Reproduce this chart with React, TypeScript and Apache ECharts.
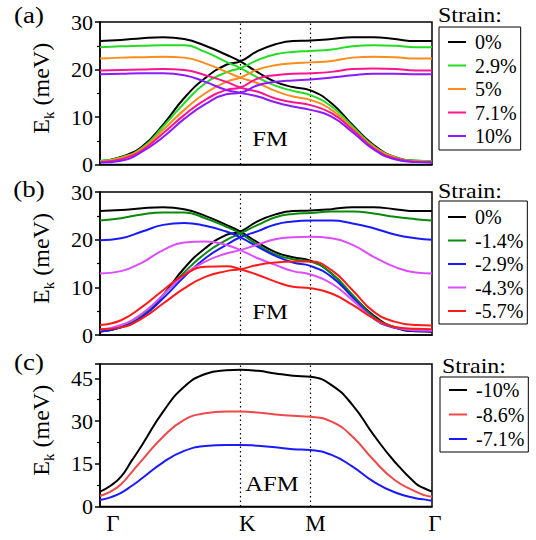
import React, { useEffect, useRef } from "react";
import * as echarts from "echarts";

// Path coordinate along Γ–K–M–Γ (K = 1.3333, M = 2, Γ = 3.1547)
const kPath = [0, 0.2, 0.4, 0.6, 0.8, 1.0, 1.2, 1.3333, 1.5, 1.6667, 1.8333, 2.0, 2.2, 2.4, 2.6, 2.8, 3.0, 3.1547];
const kPathC = [0, 0.1, 0.2, 0.3, 0.4, 0.6, 0.8, 1.0, 1.2, 1.3333, 1.5, 1.6667, 1.8333, 2.0, 2.2, 2.4, 2.6, 2.8, 3.0, 3.08, 3.1547];
const kTicks = [0, 1.3333, 2.0, 3.1547];
const kTickLabels = ["Γ", "K", "M", "Γ"];

// Panel (a): tensile strain, FM
const strainA = ["0%", "2.9%", "5%", "7.1%", "10%"];
const colorsA = ["#000000", "#22dd22", "#ff8c1a", "#ff1490", "#8c1aff"];
const a0_hi = [26.0, 26.2, 26.6, 26.8, 26.4, 25.0, 23.1, 21.7, 19.4, 17.4, 16.3, 15.6, 12.9, 8.3, 4.1, 1.6, 0.8, 0.7];
const a0_lo = [0.7, 1.6, 3.8, 8.4, 14.0, 18.2, 21.0, 21.7, 23.9, 25.3, 26.0, 26.1, 26.4, 26.8, 26.8, 26.4, 26.0, 26.0];
const a1_hi = [24.7, 24.9, 25.0, 25.1, 25.1, 23.7, 21.6, 20.3, 18.3, 16.6, 15.5, 14.6, 12.2, 8.0, 3.9, 1.6, 0.8, 0.7];
const a1_lo = [0.8, 1.5, 3.5, 8.0, 12.9, 17.1, 19.4, 20.3, 22.0, 23.2, 23.7, 23.9, 24.2, 24.9, 25.1, 25.0, 24.7, 24.7];
const a2_hi = [22.3, 22.5, 22.6, 22.7, 22.5, 21.3, 19.5, 18.3, 17.1, 15.5, 14.3, 13.6, 11.5, 7.6, 3.7, 1.5, 0.7, 0.6];
const a2_lo = [0.6, 1.4, 3.3, 7.3, 11.5, 15.0, 17.4, 18.3, 20.0, 20.9, 21.3, 21.5, 21.8, 22.5, 22.7, 22.6, 22.3, 22.3];
const a3_hi = [19.8, 19.9, 20.0, 20.1, 19.9, 18.8, 17.4, 16.2, 15.3, 13.9, 13.1, 12.5, 10.8, 7.3, 3.4, 1.3, 0.6, 0.5];
const a3_lo = [0.5, 1.1, 3.0, 6.6, 10.4, 13.6, 15.7, 16.2, 18.1, 18.8, 19.1, 19.2, 19.5, 20.1, 20.2, 20.1, 19.8, 19.8];
const a4_hi = [19.0, 19.1, 19.2, 19.2, 18.8, 17.4, 15.7, 15.1, 14.3, 13.1, 12.2, 11.5, 10.1, 6.8, 3.2, 1.1, 0.5, 0.4];
const a4_lo = [0.4, 0.8, 2.7, 5.8, 9.6, 12.7, 14.8, 15.1, 16.7, 17.4, 17.7, 17.9, 18.3, 18.8, 19.1, 19.1, 19.0, 19.0];

// Panel (b): compressive strain, FM
const strainB = ["0%", "-1.4%", "-2.9%", "-4.3%", "-5.7%"];
const colorsB = ["#000000", "#0a8a0a", "#1a1aff", "#dd4dff", "#ff1a1a"];
const b0_hi = a0_hi;
const b0_lo = a0_lo;
const b1_hi = [24.0, 24.5, 25.3, 25.7, 25.7, 24.5, 22.7, 21.3, 18.9, 16.9, 15.9, 15.4, 12.9, 8.4, 3.8, 1.7, 1.0, 0.9];
const b1_lo = [0.8, 1.7, 4.2, 8.4, 13.1, 17.1, 19.9, 21.3, 23.1, 24.7, 25.4, 25.6, 25.9, 25.9, 25.5, 24.8, 24.3, 24.0];
const b2_hi = [19.9, 20.3, 21.7, 23.1, 23.5, 22.9, 21.7, 20.5, 18.5, 16.6, 15.2, 14.5, 12.2, 7.9, 3.5, 1.5, 0.9, 0.8];
const b2_lo = [0.8, 1.6, 3.8, 7.7, 12.2, 16.1, 18.9, 20.5, 21.8, 23.2, 23.8, 24.0, 24.0, 23.4, 22.4, 21.1, 20.3, 20.0];
const b3_hi = [12.9, 13.4, 15.2, 17.8, 19.4, 19.6, 18.9, 17.8, 16.1, 14.7, 13.4, 12.7, 10.8, 7.3, 3.5, 1.6, 1.0, 0.9];
const b3_lo = [1.1, 2.1, 4.5, 8.4, 12.6, 15.4, 17.1, 17.8, 19.0, 20.1, 20.5, 20.6, 20.3, 18.9, 16.4, 14.3, 13.1, 12.9];
const b4_hi = [2.1, 3.1, 5.9, 9.4, 12.6, 14.3, 14.4, 13.8, 12.6, 11.2, 10.1, 9.8, 8.7, 6.3, 3.5, 1.7, 1.3, 1.2];
const b4_lo = [1.2, 1.6, 3.5, 6.6, 9.8, 12.2, 13.4, 13.8, 14.7, 15.2, 15.4, 15.4, 13.6, 9.4, 4.9, 2.8, 2.1, 2.0];

// Panel (c): AFM (sampled on kPathC)
const strainC = ["-10%", "-8.6%", "-7.1%"];
const colorsC = ["#000000", "#f04848", "#1a1aff"];
const c0 = [5.2, 7.3, 10.5, 16.0, 21.6, 33.3, 42.0, 46.5, 47.8, 48.0, 47.6, 46.7, 45.9, 45.5, 42.6, 35.6, 25.1, 15.7, 8.1, 6.4, 5.2];
const c1 = [3.7, 5.2, 7.8, 12.0, 16.3, 24.5, 30.4, 32.7, 33.3, 33.3, 33.0, 32.3, 31.8, 31.5, 29.8, 24.5, 16.3, 9.3, 5.2, 4.0, 3.4];
const c2 = [2.3, 3.2, 4.8, 7.2, 9.9, 15.5, 19.5, 21.2, 21.6, 21.6, 21.3, 20.8, 20.1, 19.8, 18.1, 14.0, 8.7, 5.0, 2.9, 2.5, 2.0];

const FONT = "'Liberation Serif', 'Times New Roman', serif";

export default function App() {
  const ref = useRef<HTMLDivElement>(null);

  useEffect(() => {
    document.body.style.margin = "0";
    if (!ref.current) return;
    const chart = echarts.init(ref.current, undefined, { renderer: "svg" });

    const pair = (xs: number[], ys: number[]) => ys.map((y, i) => [xs[i], y]);

    const mkLine = (name: string, color: string, xs: number[], ys: number[], idx: number, withMark = false) => {
      const s: any = {
        type: "line",
        name,
        xAxisIndex: idx,
        yAxisIndex: idx,
        data: pair(xs, ys),
        smooth: 0.5,
        showSymbol: false,
        symbol: "none",
        color,
        itemStyle: { color },
        lineStyle: { color, width: 2 },
        silent: true,
        z: 3,
      };
      if (withMark) {
        s.markLine = {
          silent: true,
          symbol: ["none", "none"],
          label: { show: false },
          lineStyle: { color: "#000", width: 1.2, type: [1.5, 3] },
          data: [{ xAxis: kTicks[1] }, { xAxis: kTicks[2] }],
          z: 1,
        };
      }
      return s;
    };

    const series: any[] = [];
    const panelA = [[a0_hi, a0_lo], [a1_hi, a1_lo], [a2_hi, a2_lo], [a3_hi, a3_lo], [a4_hi, a4_lo]];
    panelA.forEach((br, i) => {
      series.push(mkLine(strainA[i], colorsA[i], kPath, br[0], 0, i === 0));
      series.push(mkLine(strainA[i], colorsA[i], kPath, br[1], 0));
    });
    const panelB = [[b0_hi, b0_lo], [b1_hi, b1_lo], [b2_hi, b2_lo], [b3_hi, b3_lo], [b4_hi, b4_lo]];
    panelB.forEach((br, i) => {
      series.push(mkLine(strainB[i], colorsB[i], kPath, br[0], 1, i === 0));
      series.push(mkLine(strainB[i], colorsB[i], kPath, br[1], 1));
    });
    [c0, c1, c2].forEach((ys, i) => {
      series.push(mkLine(strainC[i], colorsC[i], kPathC, ys, 2, i === 0));
    });

    const grids = [
      { left: 100, top: 22, width: 332, height: 142.5 },
      { left: 100, top: 192, width: 332, height: 143 },
      { left: 100, top: 364, width: 332, height: 142.5 },
    ].map((g) => ({ ...g, show: true, borderColor: "#000", borderWidth: 1.5, backgroundColor: "transparent" }));

    const xAxes = [0, 1, 2].map((i) => ({
      type: "value",
      gridIndex: i,
      min: 0,
      max: kTicks[3],
      axisLine: { show: true, lineStyle: { color: "#000", width: 1.5 } },
      axisTick: { show: false },
      splitLine: { show: false },
      axisLabel:
        i === 2
          ? {
              show: true,
              customValues: kTicks,
              margin: 5,
              fontFamily: FONT,
              fontSize: 23,
              color: "#000",
              formatter: (v: number) => {
                const idx = kTicks.findIndex((t) => Math.abs(t - v) < 1e-3);
                const key = ["g0", "k", "m", "g1"][idx] || "k";
                return idx >= 0 ? `{${key}|${kTickLabels[idx]}}` : "";
              },
              rich: {
                g0: { fontFamily: FONT, fontSize: 23, color: "#000", padding: [0, 0, 0, 26] },
                k: { fontFamily: FONT, fontSize: 23, color: "#000", padding: [0, 0, 0, 14] },
                m: { fontFamily: FONT, fontSize: 23, color: "#000", padding: [0, 0, 0, 10] },
                g1: { fontFamily: FONT, fontSize: 23, color: "#000", padding: [0, 0, 0, 6] },
              },
            }
          : { show: false },
    }));

    const yRanges = [
      { max: 30, interval: 10 },
      { max: 30, interval: 10 },
      { max: 50, interval: 15 },
    ];
    const yAxes = yRanges.map((r, i) => ({
      type: "value",
      gridIndex: i,
      min: 0,
      max: r.max,
      interval: r.interval,
      name: "{e|E}{s|k}{e| (meV)}",
      nameLocation: "middle",
      nameGap: 44,
      nameTextStyle: {
        fontFamily: FONT,
        fontSize: 24,
        color: "#000",
        padding: [0, 0, 0, 10],
        rich: {
          e: { fontFamily: FONT, fontSize: 24, color: "#000" },
          s: { fontFamily: FONT, fontSize: 15, color: "#000", padding: [16, 0, 0, 0] },
        },
      },
      axisLine: { show: true, lineStyle: { color: "#000", width: 1.5 } },
      axisTick: { show: true, inside: false, length: 5, lineStyle: { color: "#000", width: 1.5 } },
      minorTick: { show: true, splitNumber: 2, length: 3, lineStyle: { color: "#000", width: 1.2 } },
      splitLine: { show: false },
      minorSplitLine: { show: false },
      axisLabel: {
        margin: 7,
        fontFamily: FONT,
        fontSize: 22,
        color: "#000",
        showMaxLabel: r.max % r.interval === 0,
      },
    }));

    const legendBase = {
      orient: "vertical",
      borderColor: "#000",
      borderWidth: 1,
      itemWidth: 18,
      itemHeight: 2,
      icon: "rect",
      selectedMode: false,
      textStyle: { fontFamily: FONT, fontSize: 20, color: "#000", lineHeight: 20, padding: [0, 0, 0, 4] },
    };
    const legends = [
      { ...legendBase, left: 439, top: 27, padding: [5, 4, 4, 9], itemGap: 3.5, data: strainA },
      { ...legendBase, left: 439, top: 201, padding: [6, 4, 3, 9], itemGap: 3.5, data: strainB },
      { ...legendBase, left: 440, top: 377, padding: [3, 4, 3, 9], itemGap: 4.5, data: strainC },
    ];

    const txt = (text: string, x: number, y: number, size: number, sx = 1.12, align = "center") => ({
      type: "text",
      x,
      y,
      scaleX: sx,
      silent: true,
      style: { text, fontFamily: FONT, fontSize: size, fill: "#000", align, verticalAlign: "middle" },
    });

    const graphic = [
      txt("(a)", 29, 15, 24),
      txt("(b)", 29, 189, 24),
      txt("(c)", 29, 362, 24),
      txt("FM", 270, 138, 22),
      txt("FM", 270, 311, 22),
      txt("AFM", 272, 483, 22),
      txt("Strain:", 470, 14, 22, 1.09),
      txt("Strain:", 470, 190, 22, 1.09),
      txt("Strain:", 474, 365, 22, 1.09),
    ];

    chart.setOption({
      animation: false,
      backgroundColor: "#fff",
      grid: grids,
      xAxis: xAxes,
      yAxis: yAxes,
      legend: legends,
      series,
      graphic,
    });

    return () => chart.dispose();
  }, []);

  return <div ref={ref} style={{ width: 536, height: 540 }} />;
}
